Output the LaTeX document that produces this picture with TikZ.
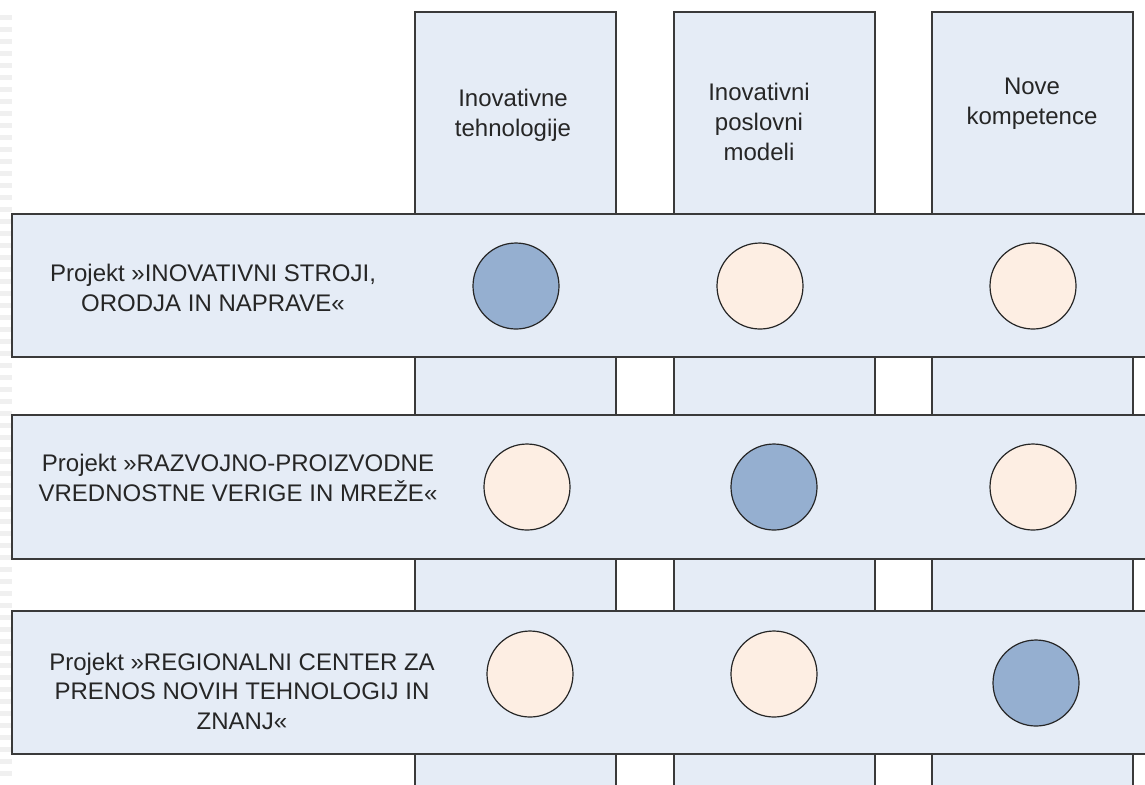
\documentclass[tikz,border=0pt]{standalone}
\usepackage{fontspec}
\setmainfont{Liberation Sans}
\usetikzlibrary{fit}
\definecolor{boxfill}{HTML}{E5ECF6}
\definecolor{boxline}{HTML}{3A3A3A}
\definecolor{darkdot}{HTML}{95AFD0}
\definecolor{lightdot}{HTML}{FDEEE3}
\definecolor{txt}{HTML}{262626}
\tikzset{
  colbox/.style={draw=boxline, fill=boxfill, line width=0.7pt, inner sep=0pt},
  rowbox/.style={draw=boxline, fill=boxfill, line width=0.7pt, inner sep=0pt},
  dotdark/.style={circle, draw=black!85, line width=0.6pt, fill=darkdot, minimum size=43pt, inner sep=0pt},
  dotlight/.style={circle, draw=black!85, line width=0.6pt, fill=lightdot, minimum size=43pt, inner sep=0pt},
  lbl/.style={align=center, inner sep=0pt, text=txt, font=\fontsize{12}{14.8}\selectfont},
}
\begin{document}
\begin{tikzpicture}[x=0.5pt, y=-0.5pt]
\clip (0,0) rectangle (1145,784);
\fill[white] (0,0) rectangle (1145,784);
% faint ruler marks at left edge
\foreach \yy in {15,27,...,780} \fill[black!6] (0,\yy) rectangle (12,\yy+5);
% columns
\node[colbox, fit={(415,12) (616,800)}] (c1) {};
\node[colbox, fit={(674,12) (875,800)}] (c2) {};
\node[colbox, fit={(932,12) (1133,800)}] (c3) {};
% column headers
\node[lbl] (h1) at (513,115) {Inovativne\\tehnologije};
\node[lbl] (h2) at (759,122) {Inovativni\\poslovni\\modeli};
\node[lbl] (h3) at (1032,104) {Nove\\kompetence};
% rows
\node[rowbox, fit={(12,214) (1170,357)}] (r1) {};
\node[rowbox, fit={(12,415) (1170,559)}] (r2) {};
\node[rowbox, fit={(12,611) (1170,754)}] (r3) {};
% row labels
\node[lbl] (t1) at (213,288) {Projekt »INOVATIVNI STROJI,\\ORODJA IN NAPRAVE«};
\node[lbl] (t2) at (238,478) {Projekt »RAZVOJNO-PROIZVODNE\\VREDNOSTNE VERIGE IN MREŽE«};
\node[lbl] (t3) at (242,691) {Projekt »REGIONALNI CENTER ZA\\PRENOS NOVIH TEHNOLOGIJ IN\\ZNANJ«};
% circles
\node[dotdark]  (d11) at (516,286) {};
\node[dotlight] (d12) at (760,286) {};
\node[dotlight] (d13) at (1033,286) {};
\node[dotlight] (d21) at (527,487) {};
\node[dotdark]  (d22) at (774,487) {};
\node[dotlight] (d23) at (1033,487) {};
\node[dotlight] (d31) at (530,674) {};
\node[dotlight] (d32) at (774,674) {};
\node[dotdark]  (d33) at (1036,683) {};
\end{tikzpicture}
\end{document}
